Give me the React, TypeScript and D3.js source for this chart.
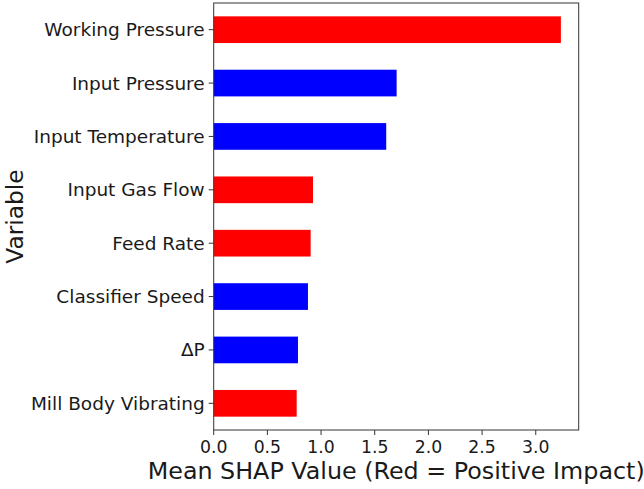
import React from "react";
import * as d3 from "d3";

const categories = [
  "Working Pressure",
  "Input Pressure",
  "Input Temperature",
  "Input Gas Flow",
  "Feed Rate",
  "Classifier Speed",
  "ΔP",
  "Mill Body Vibrating",
];
const values = [3.234, 1.704, 1.607, 0.925, 0.903, 0.878, 0.785, 0.773];
const impacts = ["pos", "neg", "neg", "pos", "pos", "neg", "neg", "pos"];
const xTicks = [0, 0.5, 1.0, 1.5, 2.0, 2.5, 3.0];

const W = 644;
const H = 489;
const left = 213.7;
const right = 578.7;
const top = 3;
const bottom = 430;
const FONT = "DejaVu Sans, sans-serif";

export default function App() {
  const x = d3.scaleLinear().domain([0, 3.4]).range([left, right]);
  const y = d3
    .scaleBand<string>()
    .domain(categories)
    .range([top, bottom])
    .paddingInner(0.5)
    .paddingOuter(0.25);
  const bw = y.bandwidth();
  return (
    <svg
      width={W}
      height={H}
      style={{ position: "absolute", left: 0, top: 0, background: "#fff" }}
    >
      {categories.map((c, i) => (
        <rect
          key={c}
          x={x(0)}
          y={y(c)!}
          width={x(values[i]) - x(0)}
          height={bw}
          fill={impacts[i] === "pos" ? "#ff0000" : "#0000ff"}
        />
      ))}
      <rect
        x={left}
        y={top}
        width={right - left}
        height={bottom - top}
        fill="none"
        stroke="#333"
        strokeWidth={1}
      />
      {categories.map((c) => {
        const cy = y(c)! + bw / 2;
        return (
          <g key={c}>
            <line x1={left - 5} x2={left} y1={cy} y2={cy} stroke="#333" />
            <text
              x={left - 9}
              y={cy}
              textAnchor="end"
              dominantBaseline="central"
              fontFamily={FONT}
              fontSize={18.5}
              fill="#1a1a1a"
            >
              {c}
            </text>
          </g>
        );
      })}
      {xTicks.map((t) => (
        <g key={t}>
          <line x1={x(t)} x2={x(t)} y1={bottom} y2={bottom + 5} stroke="#333" />
          <text
            x={x(t)}
            y={bottom + 17}
            textAnchor="middle"
            dominantBaseline="central"
            fontFamily={FONT}
            fontSize={17.3}
            fill="#1a1a1a"
          >
            {t.toFixed(1)}
          </text>
        </g>
      ))}
      <text
        x={(left + right) / 2}
        y={471}
        textAnchor="middle"
        dominantBaseline="central"
        fontFamily={FONT}
        fontSize={23.8}
        fill="#1a1a1a"
      >
        Mean SHAP Value (Red = Positive Impact)
      </text>
      <text
        transform={`translate(14,${(top + bottom) / 2}) rotate(-90)`}
        textAnchor="middle"
        dominantBaseline="central"
        fontFamily={FONT}
        fontSize={23.3}
        fill="#1a1a1a"
      >
        Variable
      </text>
    </svg>
  );
}
